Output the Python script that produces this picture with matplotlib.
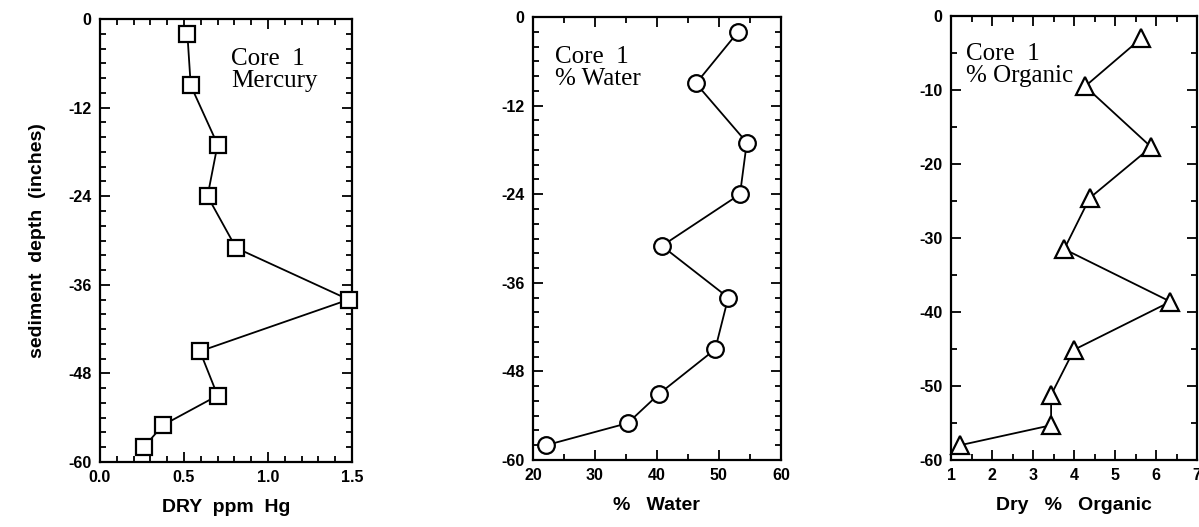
import matplotlib
matplotlib.use("Agg")
import matplotlib.pyplot as plt
from matplotlib.ticker import MultipleLocator

# ---- data ----
depth_hg = [-2, -9, -17, -24, -31, -38, -45, -51, -55, -58]
hg_ppm = [0.52, 0.54, 0.70, 0.64, 0.81, 1.48, 0.595, 0.70, 0.375, 0.26]

depth_water = [-2, -9, -17, -24, -31, -38, -45, -51, -55, -58]
water_pct = [53.1, 46.3, 54.5, 53.4, 40.8, 51.5, 49.4, 40.4, 35.3, 22.1]

depth_org = [-3, -9.5, -17.7, -24.6, -31.5, -38.6, -45.1, -51.2, -55.3, -58]
organic_pct = [5.64, 4.27, 5.88, 4.38, 3.76, 6.35, 4.0, 3.44, 3.44, 1.22]

hg_ticks = [0.0, 0.5, 1.0, 1.5]
water_ticks = [20, 30, 40, 50, 60]
org_ticks = [1, 2, 3, 4, 5, 6, 7]
depth_ticks_12 = [0, -12, -24, -36, -48, -60]
depth_ticks_10 = [0, -10, -20, -30, -40, -50, -60]

fig = plt.figure(figsize=(11.99, 5.27), dpi=100)

tickfont = dict(family="Liberation Sans", weight="bold", size=11.5)
labfont = dict(family="Liberation Sans", weight="bold", size=14)
serif = dict(family="Liberation Serif", size=18)


def style(ax, xlim, xticks, xminor, yticks, yminor, xlabels):
    ax.set_xlim(*xlim)
    ax.set_ylim(-60, 0)
    ax.set_xticks(xticks)
    ax.set_xticklabels(xlabels, fontdict=tickfont)
    ax.set_yticks(yticks)
    ax.set_yticklabels([str(t) for t in yticks], fontdict=tickfont)
    ax.xaxis.set_minor_locator(MultipleLocator(xminor))
    ax.yaxis.set_minor_locator(MultipleLocator(yminor))
    ax.tick_params(which="both", direction="in", top=True, right=True,
                   width=1.3, colors="black")
    ax.tick_params(which="major", length=7, pad=6)
    ax.tick_params(which="minor", length=4)
    for s in ax.spines.values():
        s.set_linewidth(1.6)


ax1 = fig.add_axes([0.0834, 0.1233, 0.2102, 0.8406])
ax1.plot(hg_ppm, depth_hg, color="black", lw=1.3, marker="s", ms=12,
         mfc="white", mec="black", mew=1.6, clip_on=False, zorder=3)
style(ax1, (0, 1.5), hg_ticks, 0.1, depth_ticks_12, 2,
      ["%.1f" % t for t in hg_ticks])
ax1.set_xlabel("DRY  ppm  Hg", fontdict=labfont, labelpad=10)
ax1.set_ylabel("sediment  depth  (inches)", fontdict=labfont, labelpad=16)
ax1.text(0.52, 0.935, "Core  1\nMercury", transform=ax1.transAxes, va="top",
         ha="left", linespacing=1.0, **serif)

ax2 = fig.add_axes([0.4445, 0.1271, 0.2068, 0.8406])
ax2.plot(water_pct, depth_water, color="black", lw=1.3, marker="o", ms=12,
         mfc="white", mec="black", mew=1.6, clip_on=False, zorder=3)
style(ax2, (20, 60), water_ticks, 5, depth_ticks_12, 2,
      [str(t) for t in water_ticks])
ax2.set_xlabel("%   Water", fontdict=labfont, labelpad=10)
ax2.text(0.09, 0.935, "Core  1\n% Water", transform=ax2.transAxes, va="top",
         ha="left", linespacing=1.0, **serif)

ax3 = fig.add_axes([0.7932, 0.1271, 0.2052, 0.8425])
ax3.plot(organic_pct, depth_org, color="black", lw=1.3, marker="^", ms=13,
         mfc="white", mec="black", mew=1.6, clip_on=False, zorder=3)
style(ax3, (1, 7), org_ticks, 0.5, depth_ticks_10, 5,
      [str(t) for t in org_ticks])
ax3.set_xlabel("Dry   %   Organic", fontdict=labfont, labelpad=10)
ax3.text(0.06, 0.94, "Core  1\n% Organic", transform=ax3.transAxes, va="top",
         ha="left", linespacing=1.0, **serif)

fig.savefig("out.png", dpi=100)
